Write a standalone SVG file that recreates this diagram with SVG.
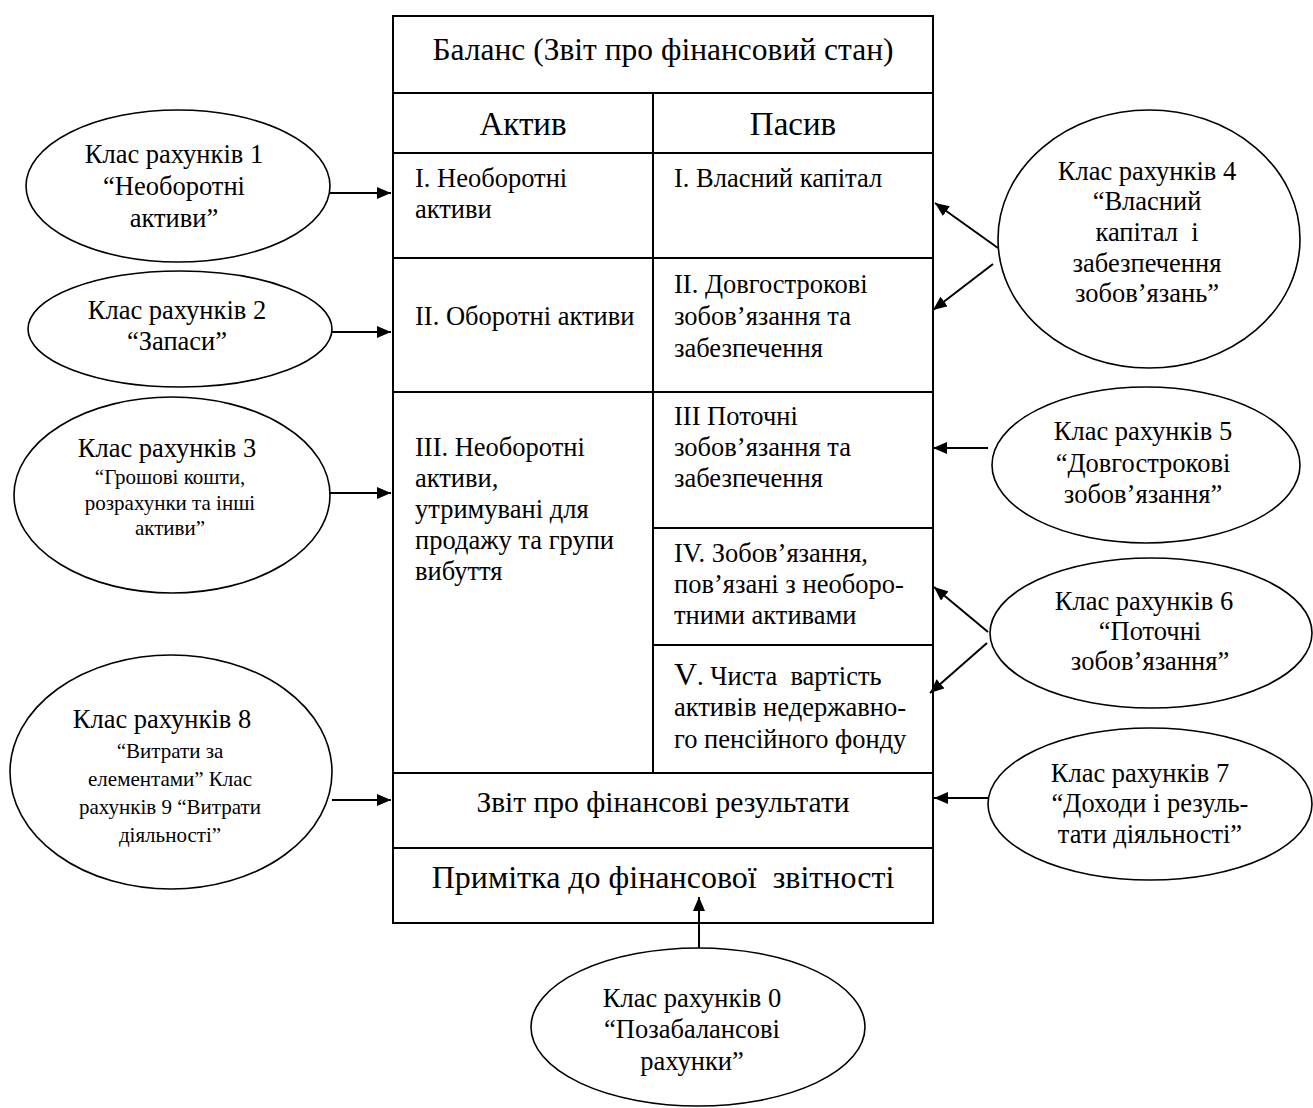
<svg xmlns="http://www.w3.org/2000/svg" width="1313" height="1108" viewBox="0 0 1313 1108">
  <style>
    text { font-family: "Liberation Serif", "Times New Roman", serif; fill: #000; white-space: pre; }
    .t { font-size: 26.5px; }
    .s { font-size: 21px; }
    .c { text-anchor: middle; }
    .cell { fill: none; stroke: #000; stroke-width: 2; }
    .oval { fill: #fff; stroke: #000; stroke-width: 1.6; }
    .conn { stroke: #000; stroke-width: 2; fill: none; marker-end: url(#arrow); }
  </style>
  <defs>
    <marker id="arrow" markerUnits="userSpaceOnUse" markerWidth="14" markerHeight="12" refX="14" refY="6" orient="auto">
      <path d="M0,0 L14,6 L0,12 z" fill="#000"/>
    </marker>
  </defs>
  <rect width="1313" height="1108" fill="#fff"/>

  <!-- balance table -->
  <g id="table">
    <rect class="cell" x="393" y="16" width="540" height="907"/>
    <line class="cell" x1="393" y1="93" x2="933" y2="93"/>
    <line class="cell" x1="393" y1="153" x2="933" y2="153"/>
    <line class="cell" x1="393" y1="258" x2="933" y2="258"/>
    <line class="cell" x1="393" y1="392" x2="933" y2="392"/>
    <line class="cell" x1="653" y1="528" x2="933" y2="528"/>
    <line class="cell" x1="653" y1="645" x2="933" y2="645"/>
    <line class="cell" x1="393" y1="773" x2="933" y2="773"/>
    <line class="cell" x1="393" y1="848" x2="933" y2="848"/>
    <line class="cell" x1="653" y1="93" x2="653" y2="773"/>
  </g>

  <g id="title">
    <text class="c" x="663" y="60" font-size="31.5">Баланс (Звіт про фінансовий стан)</text>
  </g>
  <g id="aktyv"><text class="c" x="523" y="135" font-size="33">Актив</text></g>
  <g id="pasyv"><text class="c" x="793" y="135" font-size="33">Пасив</text></g>

  <g id="a1" class="t">
    <text x="415" y="187">I. Необоротні</text>
    <text x="415" y="218">активи</text>
  </g>
  <g id="a2" class="t">
    <text x="415" y="325">II. Оборотні активи</text>
  </g>
  <g id="a3" class="t">
    <text x="415" y="456">III. Необоротні</text>
    <text x="415" y="487">активи,</text>
    <text x="415" y="518">утримувані для</text>
    <text x="415" y="549">продажу та групи</text>
    <text x="415" y="580">вибуття</text>
  </g>

  <g id="p1" class="t">
    <text x="674" y="187">I. Власний капітал</text>
  </g>
  <g id="p2" class="t">
    <text x="674" y="293">II. Довгострокові</text>
    <text x="674" y="325">зобов’язання та</text>
    <text x="674" y="357">забезпечення</text>
  </g>
  <g id="p3" class="t">
    <text x="674" y="425">III Поточні</text>
    <text x="674" y="456">зобов’язання та</text>
    <text x="674" y="487">забезпечення</text>
  </g>
  <g id="p4" class="t">
    <text x="674" y="562">IV. Зобов’язання,</text>
    <text x="674" y="593">пов’язані з необоро-</text>
    <text x="674" y="624">тними активами</text>
  </g>
  <g id="p5" class="t">
    <text x="674" y="685"><tspan font-size="32">V</tspan>. Чиста  вартість</text>
    <text x="674" y="716">активів недержавно-</text>
    <text x="674" y="748">го пенсійного фонду</text>
  </g>

  <g id="results">
    <text class="c" x="663" y="812" font-size="29.5">Звіт про фінансові результати</text>
  </g>
  <g id="notes">
    <text class="c" x="663" y="888" font-size="32">Примітка до фінансової  звітності</text>
  </g>

  <!-- account classes -->
  <g id="class1">
    <ellipse class="oval" cx="178" cy="186" rx="152" ry="76"/>
    <text class="t c" x="174" y="163">Клас рахунків 1</text>
    <text class="t c" x="174" y="195">“Необоротні</text>
    <text class="t c" x="174" y="227">активи”</text>
  </g>
  <g id="class2">
    <ellipse class="oval" cx="180" cy="329" rx="152" ry="58"/>
    <text class="t c" x="177" y="319">Клас рахунків 2</text>
    <text class="t c" x="177" y="350">“Запаси”</text>
  </g>
  <g id="class3">
    <ellipse class="oval" cx="172" cy="495" rx="158" ry="98"/>
    <text class="t c" x="167" y="457">Клас рахунків 3</text>
    <text class="s c" x="170" y="484">“Грошові кошти,</text>
    <text class="s c" x="170" y="510">розрахунки та інші</text>
    <text class="s c" x="170" y="535">активи”</text>
  </g>
  <g id="class8">
    <ellipse class="oval" cx="171" cy="772" rx="161" ry="117"/>
    <text class="t c" x="162" y="728">Клас рахунків 8</text>
    <text class="s c" x="170" y="758">“Витрати за</text>
    <text class="s c" x="170" y="786">елементами” Клас</text>
    <text class="s c" x="170" y="814">рахунків 9 “Витрати</text>
    <text class="s c" x="170" y="842">діяльності”</text>
  </g>
  <g id="class4">
    <ellipse class="oval" cx="1149" cy="239" rx="151" ry="129"/>
    <text class="t c" x="1147" y="180">Клас рахунків 4</text>
    <text class="t c" x="1147" y="210">“Власний</text>
    <text class="t c" x="1147" y="241">капітал  і</text>
    <text class="t c" x="1147" y="272">забезпечення</text>
    <text class="t c" x="1147" y="302">зобов’язань”</text>
  </g>
  <g id="class5">
    <ellipse class="oval" cx="1146" cy="465" rx="154" ry="78"/>
    <text class="t c" x="1143" y="440">Клас рахунків 5</text>
    <text class="t c" x="1143" y="472">“Довгострокові</text>
    <text class="t c" x="1143" y="503">зобов’язання”</text>
  </g>
  <g id="class6">
    <ellipse class="oval" cx="1151" cy="633" rx="161" ry="75"/>
    <text class="t c" x="1144" y="610">Клас рахунків 6</text>
    <text class="t c" x="1150" y="640">“Поточні</text>
    <text class="t c" x="1150" y="670">зобов’язання”</text>
  </g>
  <g id="class7">
    <ellipse class="oval" cx="1150" cy="804" rx="162" ry="76"/>
    <text class="t c" x="1140" y="782">Клас рахунків 7</text>
    <text class="t c" x="1150" y="812">“Доходи і резуль-</text>
    <text class="t c" x="1150" y="843">тати діяльності”</text>
  </g>
  <g id="class0">
    <ellipse class="oval" cx="698" cy="1027" rx="167" ry="79"/>
    <text class="t c" x="692" y="1007">Клас рахунків 0</text>
    <text class="t c" x="692" y="1038">“Позабалансові</text>
    <text class="t c" x="692" y="1070">рахунки”</text>
  </g>

  <!-- connectors -->
  <g id="connectors">
    <line class="conn" x1="330" y1="193" x2="391" y2="193"/>
    <line class="conn" x1="332" y1="332" x2="391" y2="332"/>
    <line class="conn" x1="330" y1="493" x2="391" y2="493"/>
    <line class="conn" x1="332" y1="800" x2="391" y2="800"/>
    <line class="conn" x1="998" y1="248" x2="935" y2="203"/>
    <line class="conn" x1="993" y1="264" x2="933" y2="310"/>
    <line class="conn" x1="988" y1="448" x2="933" y2="448"/>
    <line class="conn" x1="988" y1="632" x2="934" y2="587"/>
    <line class="conn" x1="987" y1="643" x2="930" y2="693"/>
    <line class="conn" x1="988" y1="798" x2="934" y2="798"/>
    <line class="conn" x1="699" y1="948" x2="699" y2="897"/>
  </g>
</svg>
